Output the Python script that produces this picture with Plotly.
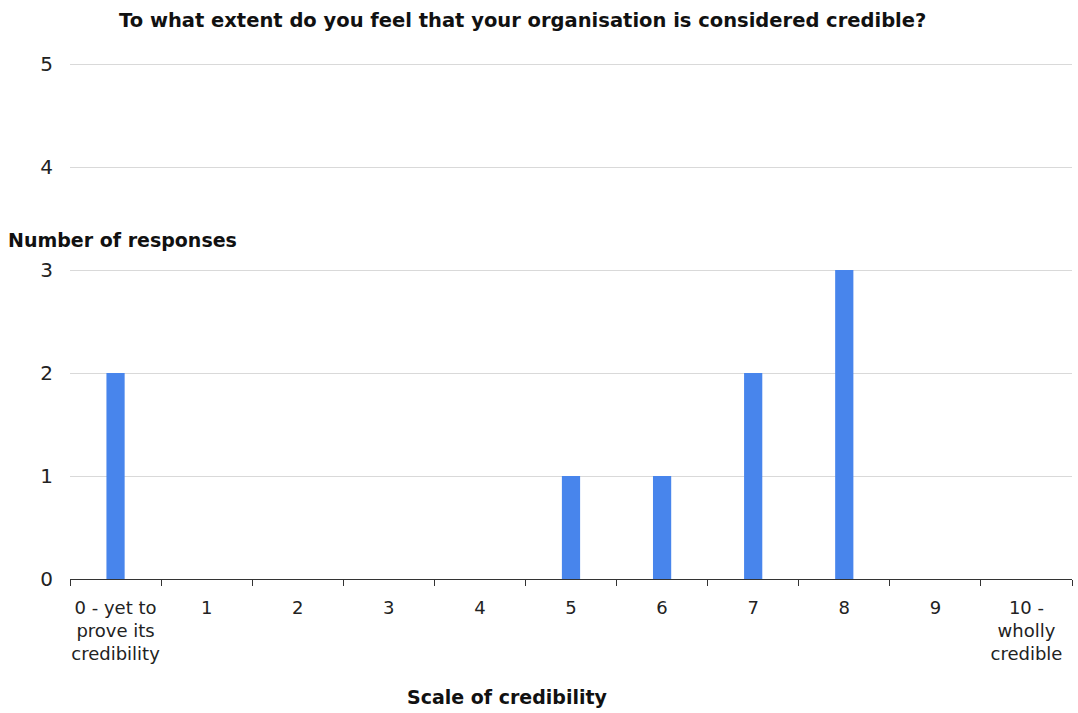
import plotly.graph_objects as go

categories = [
    "0 - yet to<br>prove its<br>credibility",
    "1", "2", "3", "4", "5", "6", "7", "8", "9",
    "10 -<br>wholly<br>credible",
]
responses = [2, 0, 0, 0, 0, 1, 1, 2, 3, 0, 0]
y_ticks = [0, 1, 2, 3, 4, 5]

FONT = "DejaVu Sans"

fig = go.Figure(
    go.Bar(
        x=categories,
        y=responses,
        width=0.2,
        marker=dict(color="#4885ec", line=dict(width=0)),
    )
)

fig.update_layout(
    width=1078,
    height=713,
    margin=dict(l=70, r=6, t=63, b=134),
    paper_bgcolor="white",
    plot_bgcolor="white",
    font=dict(family=FONT, size=19, color="#222222"),
    showlegend=False,
    annotations=[
        dict(
            text="<b>To what extent do you feel that your organisation is considered credible?</b>",
            xref="paper", yref="paper", x=0.452, y=1.0, yshift=43,
            xanchor="center", yanchor="middle", showarrow=False,
            font=dict(family=FONT, size=19.5, color="#111111"),
        ),
        dict(
            text="<b>Number of responses</b>",
            xref="paper", yref="paper", x=0, xshift=-64, y=0.6, yshift=29,
            xanchor="left", yanchor="middle", showarrow=False,
            font=dict(family=FONT, size=19, color="#111111"),
        ),
        dict(
            text="<b>Scale of credibility</b>",
            xref="paper", yref="paper", x=0.437, y=0, yshift=-118,
            xanchor="center", yanchor="middle", showarrow=False,
            font=dict(family=FONT, size=19, color="#111111"),
        ),
    ],
)

fig.update_xaxes(
    type="category",
    showline=True,
    linecolor="#333333",
    linewidth=1,
    ticks="outside",
    tickson="boundaries",
    ticklen=6,
    tickcolor="#333333",
    showgrid=False,
    tickangle=0,
    automargin=False,
    ticklabelstandoff=12,
    tickfont=dict(family=FONT, size=18, color="#222222"),
)

fig.update_yaxes(
    range=[0, 5.01],
    tickvals=y_ticks,
    showgrid=True,
    gridcolor="#d9d9d9",
    gridwidth=1,
    zeroline=False,
    showline=False,
    automargin=False,
    ticklabelstandoff=16,
    tickfont=dict(family=FONT, size=20, color="#222222"),
)

fig.write_html("out.html")
